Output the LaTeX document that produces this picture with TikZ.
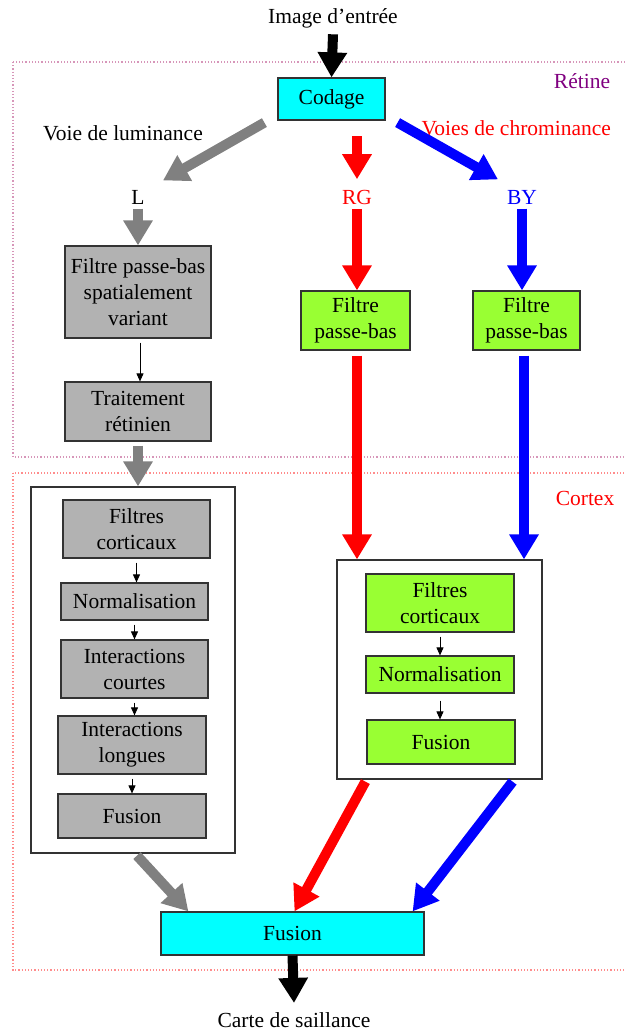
\documentclass[tikz,border=0pt]{standalone}
\usepackage{fontspec}
\setmainfont{Liberation Serif}
\usepackage{tikz}
\usetikzlibrary{arrows.meta}
\definecolor{boxgray}{RGB}{178,178,178}
\definecolor{boxgreen}{RGB}{153,255,51}
\definecolor{boxcyan}{RGB}{0,255,255}
\definecolor{retinepurple}{RGB}{128,0,128}
\definecolor{retineframe}{RGB}{215,150,185}
\definecolor{cortexframe}{RGB}{255,140,140}
\definecolor{arrowgray}{RGB}{128,128,128}

\begin{document}
\begin{tikzpicture}[x=1pt, y=-1pt,
    font=\fontsize{21.5}{26}\selectfont,
    box/.style={draw=black!80, line width=1.2pt, align=center, inner sep=0pt},
    greybox/.style={box, fill=boxgray},
    greenbox/.style={box, fill=boxgreen},
    cyanbox/.style={box, fill=boxcyan},
    frame/.style={draw=black!80, line width=1.2pt, fill=white, inner sep=0pt},
    bigarrow/.style={line width=10pt, -{Triangle[length=25pt, width=28pt]}},
    smallarrow/.style={line width=0.9pt, -{Triangle[length=8pt, width=7pt]}}
]

\useasboundingbox (0,0) rectangle (624,1032);

% Cadres Rétine et Cortex
\draw[retineframe, dotted, line width=1.2pt] (13,62) rectangle (660,457);
\draw[cortexframe, dotted, line width=1.2pt] (13,473) rectangle (660,970);
\node[retinepurple] (retine) at (582,81) {Rétine};
\node[red] (cortex) at (585,498) {Cortex};

% Entrée et codage
\node (entree) at (333,18) {Image d’entrée};
\node[cyanbox, minimum width=107pt, minimum height=42pt] (codage) at (331.5,99) {Codage};

\node (lum) at (123,133) {Voie de luminance};
\node[red, anchor=west] (chrom) at (418,128) {Voies de chrominance};

\node (L) at (138,197) {L};
\node[red] (RG) at (357,197) {RG};
\node[blue] (BY) at (522,197) {BY};

% Rétine
\node[greybox, minimum width=146pt, minimum height=92pt] (passebas) at (138,292)
    {Filtre passe-bas\\spatialement\\variant};
\node[greybox, minimum width=146pt, minimum height=59pt] (traitement) at (138,411.5)
    {Traitement\\rétinien};
\node[greenbox, minimum width=109pt, minimum height=59pt] (filtreRG) at (355.5,320.5)
    {Filtre\\passe-bas};
\node[greenbox, minimum width=107pt, minimum height=59pt] (filtreBY) at (526.5,320.5)
    {Filtre\\passe-bas};

% Cortex, voie de luminance
\node[frame, minimum width=204pt, minimum height=366pt] (cadreL) at (133,670) {};
\node[greybox, minimum width=147pt, minimum height=58pt] (corticauxL) at (136.5,529)
    {Filtres\\corticaux};
\node[greybox, minimum width=147pt, minimum height=37pt] (normL) at (134.5,601.5)
    {Normalisation};
\node[greybox, minimum width=147pt, minimum height=58pt] (courtes) at (134.5,669)
    {Interactions\\courtes};
\node[greybox, minimum width=148pt, minimum height=58pt] (longues) at (132,745)
    {Interactions\\longues};
\node[greybox, minimum width=148pt, minimum height=44pt] (fusionL) at (132,816)
    {Fusion};

% Cortex, voies de chrominance
\node[frame, minimum width=205pt, minimum height=219pt] (cadreC) at (439.5,669.5) {};
\node[greenbox, minimum width=148pt, minimum height=58pt] (corticauxC) at (440,603)
    {Filtres\\corticaux};
\node[greenbox, minimum width=148pt, minimum height=37pt] (normC) at (440,674.5)
    {Normalisation};
\node[greenbox, minimum width=148pt, minimum height=44pt] (fusionC) at (441,742)
    {Fusion};

% Fusion finale
\node[cyanbox, minimum width=263pt, minimum height=43pt] (fusion) at (292.5,933.5) {Fusion};
\node (carte) at (294,1020) {Carte de saillance};

% Flèches
\draw[bigarrow, black] ([yshift=-3pt]entree.south) -- (codage.north);
\draw[bigarrow, arrowgray] ([xshift=-13pt, yshift=-2pt]codage.south west)
    -- ([xshift=25pt, yshift=6pt]L.north);
\draw[bigarrow, red] ([yshift=50pt]RG.north) -- ([yshift=7pt]RG.north);
\draw[bigarrow, blue] ([xshift=12pt, yshift=-2pt]codage.south east)
    -- ([xshift=-24pt, yshift=7pt]BY.north);

\draw[bigarrow, arrowgray, shorten <=1pt] (L.south) -- (passebas.north);
\draw[bigarrow, red, shorten <=1pt] (RG.south) -- (RG.south |- filtreRG.north);
\draw[bigarrow, blue, shorten <=1pt] (BY.south) -- (BY.south |- filtreBY.north);

\draw[smallarrow, shorten <=4pt] ([xshift=2pt]passebas.south) -- ([xshift=2pt]traitement.north);
\draw[bigarrow, arrowgray, shorten <=4pt] (traitement.south) -- (traitement.south |- cadreL.north);
\draw[bigarrow, red, shorten <=5pt] ([xshift=1.5pt]filtreRG.south) -- ([xshift=1.5pt]filtreRG.south |- cadreC.north);
\draw[bigarrow, blue, shorten <=5pt] ([xshift=-2.5pt]filtreBY.south) -- ([xshift=-2.5pt]filtreBY.south |- cadreC.north);

\draw[smallarrow, shorten <=4pt] (corticauxL.south) -- (corticauxL.south |- normL.north);
\draw[smallarrow, shorten <=4pt] (normL.south) -- (normL.south |- courtes.north);
\draw[smallarrow, shorten <=4pt] (courtes.south) -- (courtes.south |- longues.north);
\draw[smallarrow, shorten <=4pt] (longues.south) -- (longues.south |- fusionL.north);
\draw[smallarrow, shorten <=4pt] (corticauxC.south) -- (corticauxC.south |- normC.north);
\draw[smallarrow, shorten <=7pt] (normC.south) -- (normC.south |- fusionC.north);

\draw[bigarrow, arrowgray] ([xshift=4pt, yshift=-2pt]cadreL.south) -- ([xshift=28pt]fusion.north west);
\draw[bigarrow, red] ([xshift=29pt, yshift=-2pt]cadreC.south west) -- ([xshift=2pt]fusion.north);
\draw[bigarrow, blue] ([xshift=-30pt, yshift=-2pt]cadreC.south east) -- ([xshift=-12pt]fusion.north east);
\draw[bigarrow, black] (fusion.south) -- ([yshift=6pt]carte.north);

\end{tikzpicture}
\end{document}
